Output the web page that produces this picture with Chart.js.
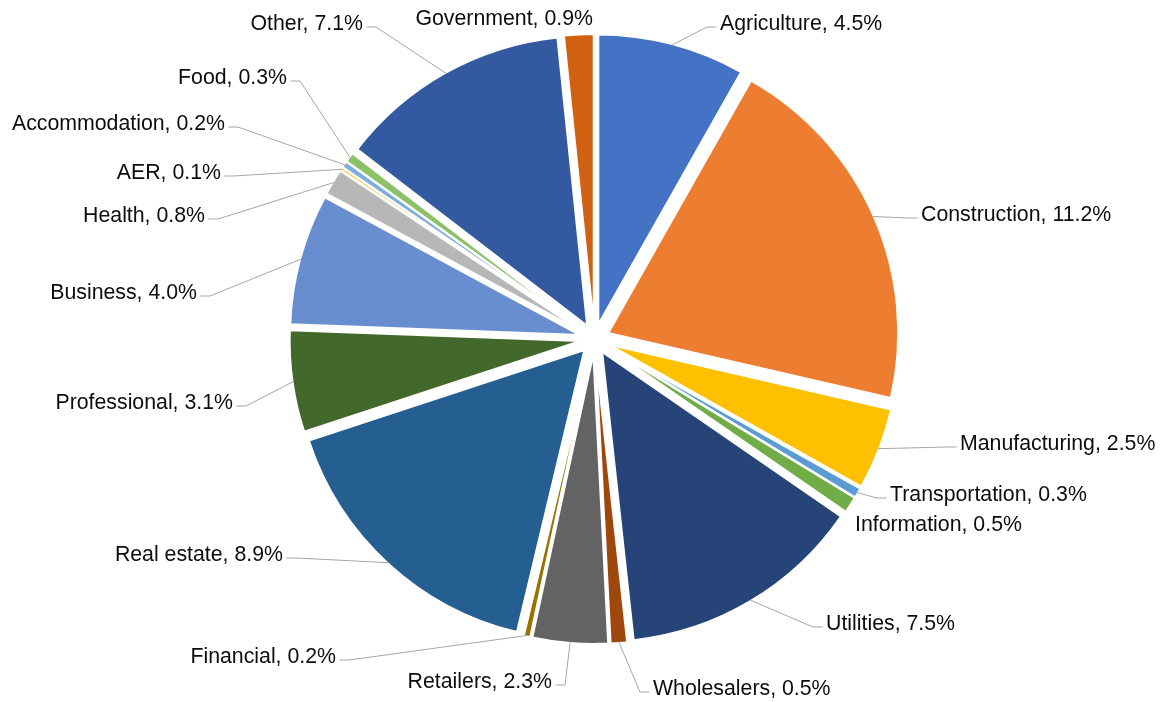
<!DOCTYPE html>
<html>
<head>
<meta charset="utf-8">
<title>Industry shares</title>
<script src="https://cdn.jsdelivr.net/npm/chart.js@4"></script>
<style>
    html, body { margin: 0; padding: 0; background: #ffffff; }
    #chart-wrap { width: 1166px; height: 702px; }
</style>
</head>
<body>
<div id="chart-wrap"><canvas id="industry-pie" width="1166" height="702"></canvas></div>
<script>
// chart data (clockwise from 12 o'clock)
const categories = [
    'Agriculture', 'Construction', 'Manufacturing', 'Transportation', 'Information',
    'Utilities', 'Wholesalers', 'Retailers', 'Financial', 'Real estate',
    'Professional', 'Business', 'Health', 'AER', 'Accommodation',
    'Food', 'Other', 'Government'
];
const shares = [
    4.5, 11.2, 2.5, 0.3, 0.5,
    7.5, 0.5, 2.3, 0.2, 8.9,
    3.1, 4.0, 0.8, 0.1, 0.2,
    0.3, 7.1, 0.9
];
const sliceColors = [
    '#4472C4', '#ED7D31', '#FFC000', '#5B9BD5', '#70AD47',
    '#264478', '#9E480E', '#636363', '#997300', '#255E91',
    '#43682B', '#698ED0', '#B7B7B7', '#FFCD33', '#7CAFDD',
    '#8CC168', '#335AA1', '#D26012'
];

// label placement: x = text edge nearest to the pie, y = middle of the capitals
const labelX = [
    720, 921, 960, 890, 855,
    826, 653, 552, 336, 283,
    233, 197, 205, 221, 225,
    287, 363, 593
];
const labelY = [
    22, 213, 442, 493, 523,
    622, 687, 680, 655, 553,
    401, 291, 214, 171, 122,
    76, 22, 17
];

const PIE_RADIUS = 290;
const EXPLODE = 15;          // visible shift of each slice
const BORDER = 2;
const FONT = '21.3px "Liberation Sans", Arial, sans-serif';

// Chart.js moves a slice by offset/4, but it also grows thin slices and trims
// their arc length; undo both so the slices keep their true size
const keepRadiusPlugin = {
    id: 'keepRadius',
    afterDatasetUpdate(chart) {
        const meta = chart.getDatasetMeta(0);
        meta.data.forEach(arc => {
            const fix = 1 - Math.sin(Math.min(Math.PI, arc.circumference));
            const grow = EXPLODE * fix;
            arc.outerRadius = PIE_RADIUS - grow;
            const trim = grow / (2 * Math.PI * PIE_RADIUS);
            arc.startAngle -= trim;
            arc.endAngle += trim;
        });
    }
};

// "Name, x.x%" labels with leader lines
const outsideLabelPlugin = {
    id: 'outsideLabels',
    afterDatasetsDraw(chart) {
        const ctx = chart.ctx;
        const meta = chart.getDatasetMeta(0);
        const values = chart.data.datasets[0].data;
        ctx.save();
        ctx.font = FONT;
        meta.data.forEach((arc, i) => {
            const mid = (arc.startAngle + arc.endAngle) / 2;
            const reach = EXPLODE + PIE_RADIUS - BORDER / 2;
            const ax = arc.x + Math.cos(mid) * reach;
            const ay = arc.y + Math.sin(mid) * reach;
            const text = chart.data.labels[i] + ', ' + values[i].toFixed(1) + '%';
            const w = ctx.measureText(text).width;
            const onRight = ax > arc.x;
            const x0 = onRight ? labelX[i] : labelX[i] - w;
            const x1 = x0 + w;
            const cy = labelY[i];

            // leader line only when the label sits away from its slice
            const dx = Math.max(x0 - ax, 0, ax - x1);
            const dy = Math.max(cy - 10 - ay, 0, ay - cy - 10);
            if (Math.hypot(dx, dy) > 14) {
                const ly = cy + 5;
                const elbow = onRight ? labelX[i] - 13 : labelX[i] + 13;
                const end = onRight ? labelX[i] - 3.5 : labelX[i] + 3.5;
                ctx.strokeStyle = '#A6A6A6';
                ctx.lineWidth = 1;
                ctx.beginPath();
                ctx.moveTo(ax, ay);
                ctx.lineTo(elbow, ly);
                ctx.lineTo(end, ly);
                ctx.stroke();
            }

            ctx.fillStyle = '#0D0D0D';
            ctx.textAlign = onRight ? 'left' : 'right';
            ctx.textBaseline = 'alphabetic';
            ctx.fillText(text, labelX[i], cy + 7.6);
        });
        ctx.restore();
    }
};

const canvas = document.getElementById('industry-pie');
const pieChart = new Chart(canvas, {
    type: 'pie',
    data: {
        labels: categories,
        datasets: [{
            data: shares,
            backgroundColor: sliceColors,
            borderColor: '#ffffff',
            borderWidth: BORDER,
            offset: EXPLODE * 4,
            radius: PIE_RADIUS
        }]
    },
    options: {
        responsive: false,
        animation: false,
        layout: {
            padding: { left: 23, right: 0, top: 0, bottom: 24 }
        },
        plugins: {
            legend: { display: false },
            tooltip: { enabled: false }
        },
        events: []
    },
    plugins: [keepRadiusPlugin, outsideLabelPlugin]
});
</script>
</body>
</html>
